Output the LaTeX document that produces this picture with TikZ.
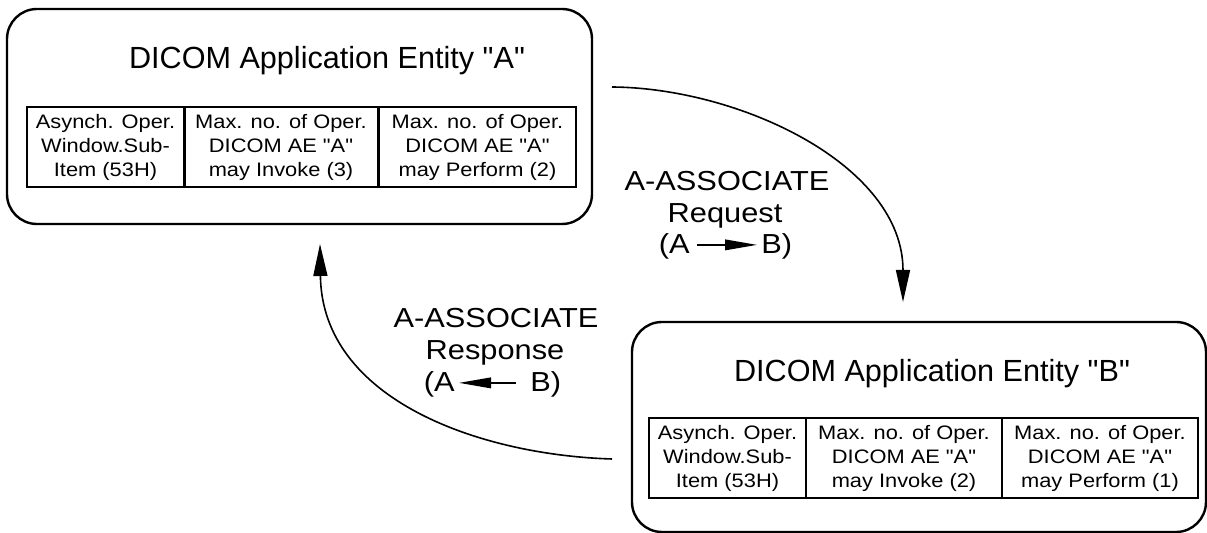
\documentclass[tikz,border=0pt]{standalone}
\usepackage{fontspec}
\setmainfont{Liberation Sans}
\newfontfamily\plainsf{Liberation Sans}
\newfontfamily\widesf{Liberation Sans}[FakeStretch=1.12]
\usetikzlibrary{arrows.meta}
\newcommand{\aename}[1]{DICOM Application Entity "#1"}
\newcommand{\asynch}{Asynch. Oper.\\Window.Sub-\\Item (53H)}
\newcommand{\maxops}[2]{Max. no. of Oper.\\DICOM AE "A"\\may #1 (#2)} % Cell text.

\begin{document}
\begin{tikzpicture}[x=0.5pt,y=-0.5pt,
  entity/.style={draw,line width=1.2pt,rounded corners=15pt},
  cell/.style={draw,line width=1pt,outer sep=0pt,inner sep=0pt,minimum height=40pt,
    align=center,font=\widesf\fontsize{9.75}{12}\selectfont},
  title/.style={inner sep=0pt,font=\plainsf\fontsize{15.3}{16.75}\selectfont},
  msg/.style={inner sep=0pt,font=\widesf\fontsize{13.75}{15.75}\selectfont},
  flow/.style={line width=0.8pt,-{Triangle[length=16pt,width=7pt]}},
  inline/.style={line width=0.8pt,-{Triangle[length=16pt,width=5.3pt]}}]
\useasboundingbox (0,0) rectangle (1207,533);

\node[entity,minimum width=292.5pt,minimum height=107.5pt] (aeA) at (299.5,116.5) {};
\node[title,anchor=base] (titleA) at (327,69) {\aename{A}};
\node[cell,minimum width=79pt] (a1) at (105.5,147) {\asynch};
\node[cell,minimum width=97pt] (a2) at (281,147) {\maxops{Invoke}{3}};
\node[cell,minimum width=98.5pt] (a3) at (477.5,147) {\maxops{Perform}{2}};

\node[entity,minimum width=287pt,minimum height=105pt] (aeB) at (919,427) {};
\node[title,anchor=base] (titleB) at (932,382) {\aename{B}};
\node[cell,minimum width=78.5pt] (b1) at (727.5,458.5) {\asynch};
\node[cell,minimum width=98pt] (b2) at (904,458.5) {\maxops{Invoke}{2}};
\node[cell,minimum width=98pt] (b3) at (1100,458.5) {\maxops{Perform}{1}};

% A to B
\coordinate (reqfrom) at (612,87);
\coordinate (reqto) at (903,302);
\draw[flow] (reqfrom) .. controls (740,88) and (903,165) .. (reqto);
\node[msg,anchor=base] (reqtop) at (727,191) {A-ASSOCIATE};
\node[msg,anchor=base] (reqmid) at (725,222.5) {Request};
\node[msg,anchor=base east] (reqA) at (690,254) {(A};
\node[msg,anchor=base west] (reqB) at (761,254) {B)};
\draw[inline] ([shift={(3.5pt,1pt)}]reqA.east) -- ([shift={(-2pt,1pt)}]reqB.west);

% B to A
\coordinate (respfrom) at (612,459);
\coordinate (respto) at (320,244);
\draw[flow] (respfrom) .. controls (480,455) and (322,400) .. (respto);
\node[msg,anchor=base] (resptop) at (496,328) {A-ASSOCIATE};
\node[msg,anchor=base] (respmid) at (495,360) {Response};
\node[msg,anchor=base east] (respA) at (455,392) {(A};
\node[msg,anchor=base west] (respB) at (530,392) {B)};
\draw[inline] ([shift={(-7pt,1pt)}]respB.west) -- ([shift={(2pt,1pt)}]respA.east);
\end{tikzpicture}
\end{document}
